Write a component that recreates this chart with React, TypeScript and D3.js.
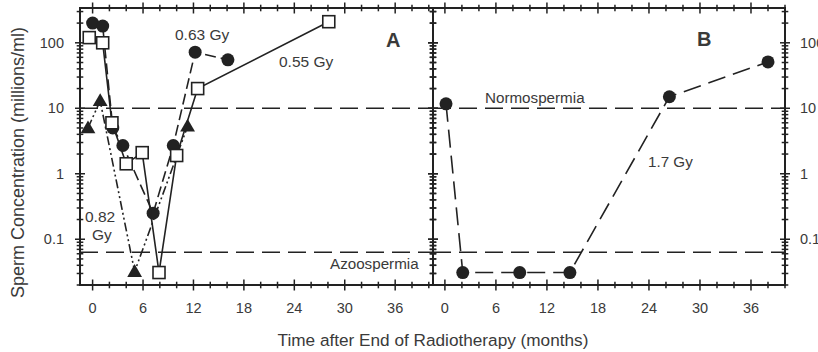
import React from 'react';
import * as d3 from 'd3';

// panel A: three patients
const monthsA055 = [-0.4, 1.2, 2.3, 4.0, 5.9, 7.9, 10.0, 12.5, 28.1];
const concA055 = [120, 100, 6.0, 1.42, 2.1, 0.031, 1.9, 20, 210];

const monthsA063 = [0, 1.2, 2.4, 3.6, 7.2, 9.6, 12.2, 16.1];
const concA063 = [200, 180, 5.0, 2.7, 0.25, 2.7, 72, 55];

const monthsA082 = [-0.55, 0.9, 5.0, 11.3];
const concA082 = [5.0, 13, 0.032, 5.3];

// panel B: one patient
const monthsB17 = [0.13, 2.1, 8.8, 14.7, 26.4, 38.0];
const concB17 = [11.7, 0.031, 0.031, 0.031, 15, 51];

const yTickLabels = ['0.1', '1', '10', '100'];
const xTickLabels = [0, 6, 12, 18, 24, 30, 36];

const NORMO = 10;
const AZOO = 0.063;

const W = 818, H = 352;
const top = 8, bottom = 285;
const ink = '#222';
const txt = '#3a3a3a';
const font = '"Liberation Sans", Arial, Helvetica, sans-serif';

const y = d3.scaleLog().domain([0.02, 340]).range([bottom, top]);
const xA = d3.scaleLinear().domain([-1.5, 40.5]).range([80, 433]);
const xB = d3.scaleLinear().domain([-1.4, 40]).range([433, 785]);

const yMinor: number[] = [];
[0.01, 0.1, 1, 10, 100].forEach(dec => {
  for (let k = 1; k <= 9; k++) {
    const v = dec * k;
    if (v >= 0.02 && v <= 340) yMinor.push(v);
  }
});
const xTicks = d3.range(0, 41, 2);

function Frame({ x, labelsLeft, labelsRight }: { x: d3.ScaleLinear<number, number>; labelsLeft?: boolean; labelsRight?: boolean }) {
  const [x0, x1] = x.range();
  return (
    <g>
      <rect x={x0} y={top} width={x1 - x0} height={bottom - top} fill="none" stroke={ink} strokeWidth={2} />
      {yMinor.map((v, i) => {
        const major = Math.abs(Math.log10(v) - Math.round(Math.log10(v))) < 1e-6;
        const l = major ? 5 : 3.3;
        const yy = y(v);
        return (
          <g key={i}>
            <line x1={x0 - l} x2={x0 + l} y1={yy} y2={yy} stroke={ink} strokeWidth={1.5} />
            <line x1={x1 - l} x2={x1 + l} y1={yy} y2={yy} stroke={ink} strokeWidth={1.5} />
          </g>
        );
      })}
      {xTicks.filter(t => x(t) <= x1 + 0.5).map(t => {
        const l = t % 6 === 0 ? 5.5 : 3.3;
        const xx = x(t);
        return (
          <g key={t}>
            <line x1={xx} x2={xx} y1={bottom - l} y2={bottom + l} stroke={ink} strokeWidth={1.5} />
            <line x1={xx} x2={xx} y1={top - l} y2={top + l} stroke={ink} strokeWidth={1.5} />
          </g>
        );
      })}
      {xTickLabels.map(t => (
        <text key={t} x={x(t)} y={313} textAnchor="middle" fontSize={14.5} fill={txt}>{t}</text>
      ))}
      {labelsLeft && yTickLabels.map(l => (
        <text key={l} x={x0 - 16} y={y(+l) + 5} textAnchor="end" fontSize={14.5} fill={txt}>{l}</text>
      ))}
      {labelsRight && yTickLabels.map(l => (
        <text key={l} x={x1 + 15} y={y(+l) + 5} textAnchor="start" fontSize={14.5} fill={txt}>{l}</text>
      ))}
      {[NORMO, AZOO].map(v => (
        <line key={v} x1={x0} x2={x1} y1={y(v)} y2={y(v)} stroke={ink} strokeWidth={1.5} strokeDasharray="18 8" />
      ))}
    </g>
  );
}

function Series({ x, months, conc, dash, marker }: { x: d3.ScaleLinear<number, number>; months: number[]; conc: number[]; dash?: string; marker: 'circle' | 'square' | 'triangle' }) {
  const pts = months.map((m, i) => [x(m), y(conc[i])] as [number, number]);
  const line = d3.line();
  const tri = d3.symbol(d3.symbolTriangle, 95)();
  return (
    <g>
      <path d={line(pts) || ''} fill="none" stroke={ink} strokeWidth={1.6} strokeDasharray={dash} />
      {pts.map(([px, py], i) => {
        if (marker === 'circle') return <circle key={i} cx={px} cy={py} r={6.5} fill={ink} />;
        if (marker === 'square') return <rect key={i} x={px - 6} y={py - 6} width={12} height={12} fill="#fff" stroke={ink} strokeWidth={1.6} />;
        return <path key={i} d={tri || ''} transform={`translate(${px},${py + 1})`} fill={ink} />;
      })}
    </g>
  );
}

export default function App() {
  return (
    <svg width={W} height={H} style={{ position: 'absolute', left: 0, top: 0, background: '#fff' }} fontFamily={font}>
      <rect width={W} height={H} fill="#fff" />
      <Frame x={xA} labelsLeft />
      <Frame x={xB} labelsRight />

      <Series x={xA} months={monthsA082} conc={concA082} dash="9 3 2 3 2 3" marker="triangle" />
      <Series x={xA} months={monthsA063} conc={concA063} dash="11 5" marker="circle" />
      <Series x={xA} months={monthsA055} conc={concA055} marker="square" />
      <Series x={xB} months={monthsB17} conc={concB17} dash="18 8" marker="circle" />

      <text x={175} y={40} fontSize={15.5} fill={txt}>0.63 Gy</text>
      <text x={279} y={67} fontSize={15.5} fill={txt}>0.55 Gy</text>
      <text x={85} y={222} fontSize={15.5} fill={txt}>0.82</text>
      <text x={92} y={240} fontSize={15.5} fill={txt}>Gy</text>
      <text x={386} y={47} fontSize={20} fontWeight="bold" fill={txt}>A</text>
      <text x={697} y={46} fontSize={20} fontWeight="bold" fill={txt}>B</text>
      <text x={485} y={103} fontSize={15.2} fill={txt}>Normospermia</text>
      <text x={330} y={269} fontSize={15.2} fill={txt}>Azoospermia</text>
      <text x={648} y={167} fontSize={15.2} fill={txt}>1.7 Gy</text>

      <text x={433} y={346} textAnchor="middle" fontSize={17.2} fill={txt}>Time after End of Radiotherapy (months)</text>
      <text transform={`translate(24,${(23 + 302) / 2}) rotate(-90)`} textAnchor="middle" fontSize={18} fill={txt}>Sperm Concentration (millions/ml)</text>
    </svg>
  );
}
